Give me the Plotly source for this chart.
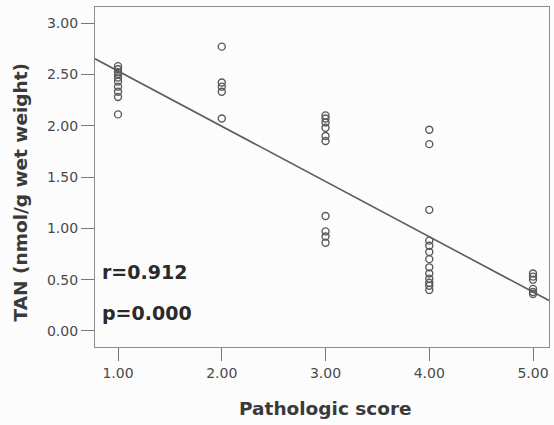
import numpy as np
import plotly.graph_objects as go

# Data
score_1 = [2.58, 2.55, 2.52, 2.50, 2.47, 2.43, 2.38, 2.33, 2.28, 2.11]
score_2 = [2.77, 2.42, 2.38, 2.33, 2.07]
score_3 = [2.10, 2.07, 2.03, 1.98, 1.90, 1.85, 1.12, 0.97, 0.92, 0.86]
score_4 = [1.96, 1.82, 1.18, 0.88, 0.83, 0.77, 0.70, 0.62, 0.56, 0.51, 0.47, 0.44, 0.40]
score_5 = [0.56, 0.53, 0.50, 0.41, 0.38, 0.36]
groups = [1, 2, 3, 4, 5]
# Fit line as drawn in the picture (intercept, slope)
fit_intercept = 3.07
fit_slope = -0.538
tick_vals_x = [1, 2, 3, 4, 5]
tick_text_x = ["1.00", "2.00", "3.00", "4.00", "5.00"]
tick_vals_y = [0, 0.5, 1.0, 1.5, 2.0, 2.5, 3.0]
tick_text_y = ["0.00", "0.50", "1.00", "1.50", "2.00", "2.50", "3.00"]
r_text = "r=0.912"
p_text = "p=0.000"
x_title = "Pathologic score"
y_title = "TAN (nmol/g wet weight)"

xs, ys = [], []
for g, vals in zip(groups, [score_1, score_2, score_3, score_4, score_5]):
    xs += [g] * len(vals)
    ys += vals

x_range = [0.778, 5.154]
y_range = [-0.156, 3.156]
line_x = np.array(x_range)
line_y = fit_intercept + fit_slope * line_x

fig = go.Figure()
fig.add_trace(go.Scatter(
    x=line_x, y=line_y, mode="lines",
    line=dict(color="#5c5c5c", width=1.6), hoverinfo="skip", showlegend=False,
))
fig.add_trace(go.Scatter(
    x=xs, y=ys, mode="markers",
    marker=dict(symbol="circle-open", size=7, color="#5a5a5a", line=dict(width=1.4)),
    showlegend=False,
))

ann_font = dict(family="DejaVu Sans", size=19, color="#2a2a2a")
fig.add_annotation(x=0.83, y=0.575, xref="x", yref="y", text="<b>" + r_text + "</b>",
                   showarrow=False, xanchor="left", yanchor="middle", font=ann_font)
fig.add_annotation(x=0.83, y=0.175, xref="x", yref="y", text="<b>" + p_text + "</b>",
                   showarrow=False, xanchor="left", yanchor="middle", font=ann_font)

title_font = dict(family="DejaVu Sans", size=18.5, color="#3a3a3a")
fig.add_annotation(x=-0.165, y=0.455, xref="paper", yref="paper", text="<b>" + y_title + "</b>",
                   textangle=-90, showarrow=False, xanchor="center", yanchor="middle",
                   font=title_font)
fig.add_annotation(x=0.507, y=-0.18, xref="paper", yref="paper", text="<b>" + x_title + "</b>",
                   showarrow=False, xanchor="center", yanchor="middle", font=title_font)

axis_font = dict(family="DejaVu Sans", size=14, color="#4a4a4a")
common = dict(
    ticks="outside", ticklen=13, tickwidth=1.3, tickcolor="#777777",
    showline=True, linecolor="#8a8a8a", linewidth=1.3, mirror=True,
    showgrid=False, zeroline=False, tickfont=axis_font, automargin=False,
)
fig.update_layout(
    width=554, height=425,
    margin=dict(l=95, r=5, t=7, b=78),
    paper_bgcolor="#fcfcfd", plot_bgcolor="#fcfcfd",
    xaxis=dict(range=x_range, tickvals=tick_vals_x, ticktext=tick_text_x, **common),
    yaxis=dict(range=y_range, tickvals=tick_vals_y, ticktext=tick_text_y, **common),
)

fig.write_html("out.html", config={"displayModeBar": False},
               post_script="document.body.style.margin='0px';")
